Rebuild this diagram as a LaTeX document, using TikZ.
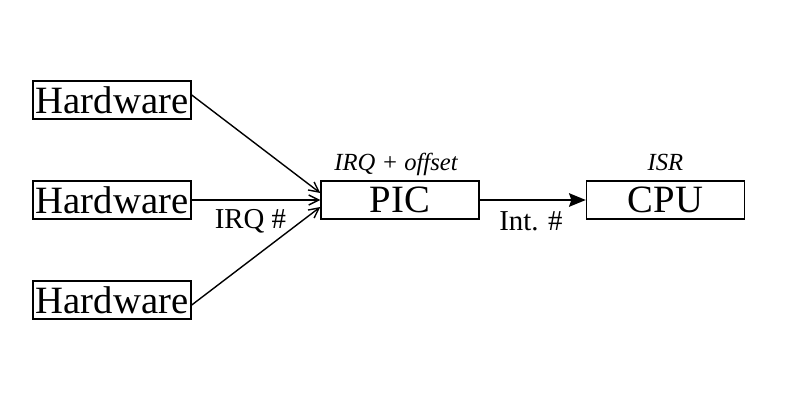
\documentclass[tikz,border=0pt]{standalone}
\usepackage{fontspec}
\setmainfont{Liberation Serif}
\usetikzlibrary{arrows.meta}

\tikzset{
	box/.style={draw, line width=1pt, minimum width=3.95cm, minimum height=0.95cm, inner sep=0pt, font=\fontsize{27.5}{30}\selectfont},
	lbl/.style={anchor=base, font=\fontsize{20.5}{24}\selectfont},
	tag/.style={anchor=base, font=\fontsize{17.5}{21}\selectfont\itshape},
	irq/.style={line width=1pt, -{Straight Barb[length=0.25cm, width=0.25cm]}},
	int/.style={line width=1pt, -{Stealth[length=0.42cm, width=0.34cm, inset=0.06cm]}},
}

\begin{document}
\begin{tikzpicture}[x=0.025cm, y=-0.025cm]
	\useasboundingbox (0, 0) rectangle (800, 400);
	\node[box] (hw1) at (112, 100) {Hardware};
	\node[box] (hw2) at (112, 200) {Hardware};
	\node[box] (hw3) at (112, 300) {Hardware};
	\node[box] (pic) at (400, 200) {PIC};
	\node[box] (cpu) at (665.5, 200) {CPU};
	\draw[irq] ([yshift=0.125cm]hw1.east) -- ([yshift=0.175cm]pic.west);
	\draw[irq] (hw2.east) -- (pic.west);
	\draw[irq] ([yshift=-0.125cm]hw3.east) -- ([yshift=-0.175cm]pic.west);
	\draw[int] (pic.east) -- (cpu.west);
	\node[lbl] (irqnum) at (250.5, 228) {IRQ \#};
	\node[lbl] (intnum) at (531, 230) {Int. \#};
	\node[tag] (offset) at (396, 171) {IRQ + offset};
	\node[tag] (isr) at (665.5, 171) {ISR};
\end{tikzpicture}
\end{document}
